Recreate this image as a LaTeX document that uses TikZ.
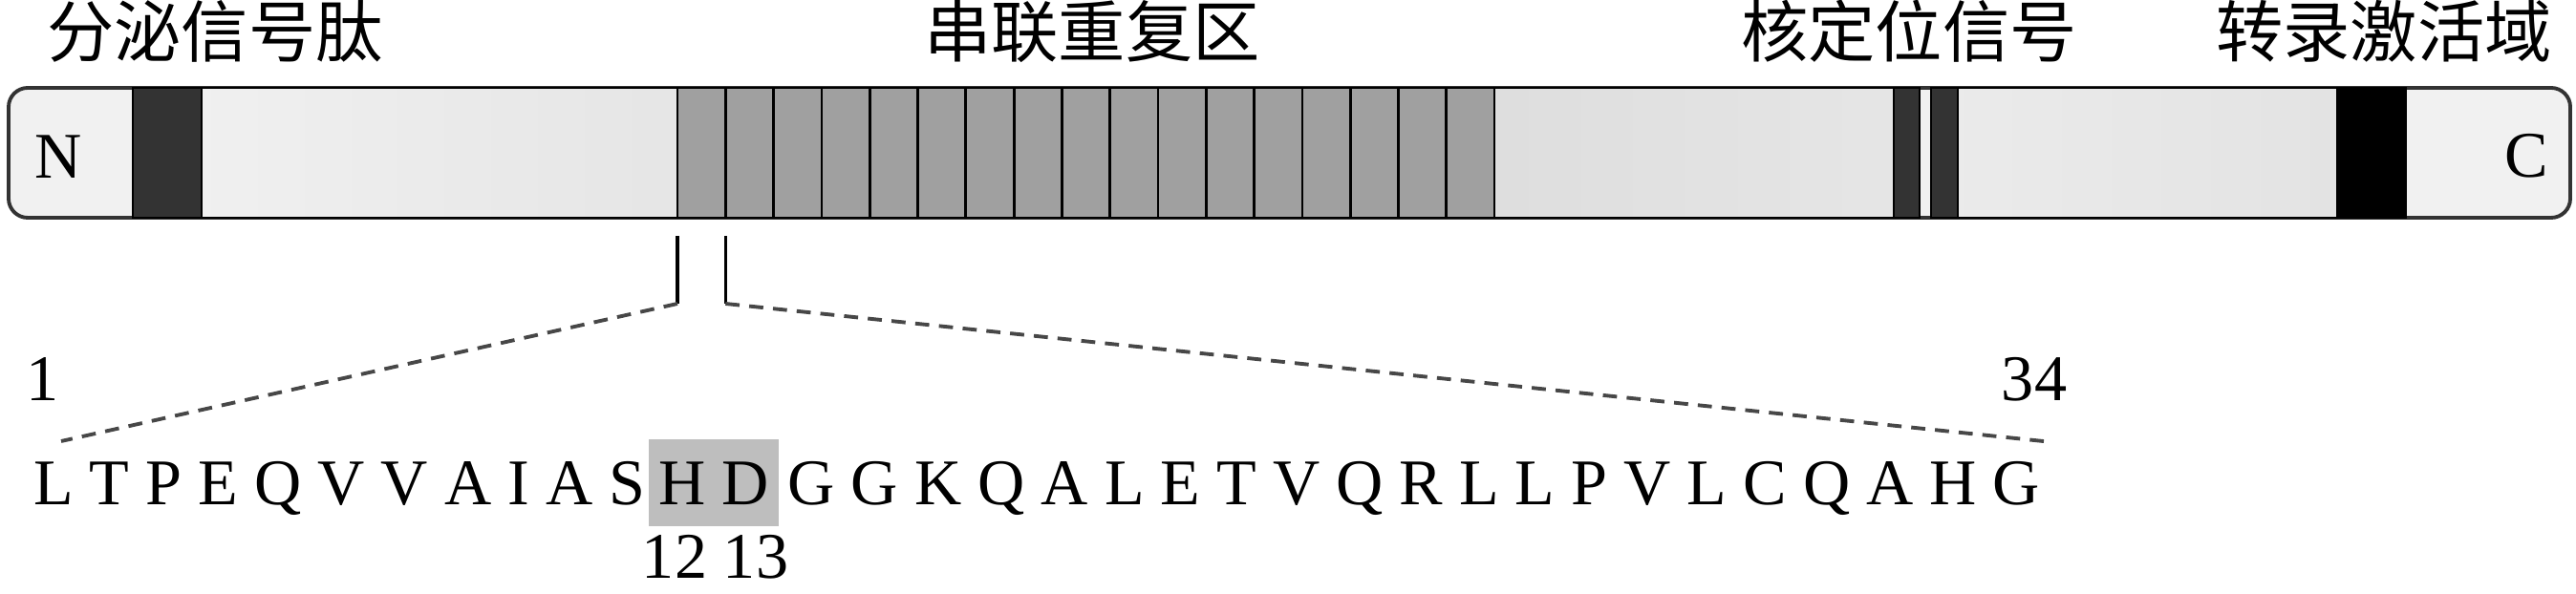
\documentclass[tikz,border=0pt]{standalone}
\usepackage{fontspec}
\setmainfont{Liberation Serif}
\newfontfamily\cjk{Noto Sans CJK SC}
\usepackage{xcolor}
\usepackage{tikz}
\definecolor{endgray}{HTML}{F1F1F1}
\definecolor{repgray}{HTML}{A0A0A0}
\definecolor{darkseg}{HTML}{333333}
\definecolor{hdgray}{HTML}{BEBEBE}

\begin{document}
\begin{tikzpicture}[font=\fontsize{19.4}{23}\selectfont,
  title/.style={font=\cjk\fontsize{20}{24}\selectfont, inner sep=0pt},
  barbox/.style={draw=black!80, line width=1.1pt, fill=endgray, rounded corners=2mm, minimum width=268.1mm, minimum height=13.6mm, inner sep=0pt},
  seg/.style={draw=black, line width=0.8pt, inner sep=0pt, outer sep=0pt, minimum height=13.6mm},
  rep/.style={seg, fill=repgray, minimum width=5.03mm},
  dark/.style={seg, fill=darkseg},
  seq/.style={inner sep=0pt},
  hl/.style={fill=hdgray, inner xsep=1.05mm, inner ysep=0pt, minimum height=9.1mm},
  solidln/.style={line width=0.9pt},
  dashln/.style={line width=1.1pt, black!72, dash pattern=on 4.2pt off 2.9pt}]
\useasboundingbox (0,0) rectangle (26.96,-6.22);

% protein bar
\node[barbox] (bar) at (13.495,-1.60) {};
\node[dark, minimum width=7.2mm]  (sp)   at (1.75,-1.60)  {};
\node[seg, minimum width=49.8mm, left color=black!6, right color=black!10] (lt1) at (4.60,-1.60) {};
\foreach \i in {1,...,17}
  \node[rep] (r\i) at ({7.09+(\i-0.5)*0.503},-1.60) {};
\node[seg, minimum width=41.8mm, left color=black!13, right color=black!10] (lt2) at (17.73,-1.60) {};
\node[dark, minimum width=2.7mm]  (nls1) at (19.955,-1.60) {};
\node[dark, minimum width=2.8mm]  (nls2) at (20.35,-1.60) {};
\node[seg, minimum width=39.7mm, left color=black!8, right color=black!11] (lt3) at (22.475,-1.60) {};
\node[dark, fill=black, minimum width=7.2mm] (ad) at (24.82,-1.60) {};
\node (nterm) at (0.61,-1.64) {N};
\node (cterm) at (26.44,-1.63) {C};

% domain labels
\node[title] (spT)  at (2.25,-0.33)  {分泌信号肽};
\node[title] (repT) at (11.43,-0.33) {串联重复区};
\node[title] (nlsT) at (19.98,-0.33) {核定位信号};
\node[title] (adT)  at (24.95,-0.33) {转录激活域};

% one repeat, spelled out
\node[hl] (hd) at (7.47,-5.06) {H D};
\node[seq, anchor=base east] (seqL) at ([xshift=-0.2mm]hd.base west) {L T P E Q V V A I A S};
\node[seq, anchor=base west] (seqR) at ([xshift=0.8mm]hd.base east) {G G K Q A L E T V Q R L L P V L C Q A H G};
\node[anchor=base] (n1)  at (0.45,-4.20)  {1};
\node[anchor=base] (n34) at (21.29,-4.20) {34};
\node[seq, anchor=base] (n12) at (7.06,-6.06)  {12};
\node[seq, anchor=base] (n13) at (7.91,-6.06)  {13};

\coordinate (kl) at ([yshift=-9mm]r1.south west);
\coordinate (kr) at ([yshift=-9mm]r1.south east);
\coordinate (zl) at (0.64,-4.62);
\coordinate (zr) at (21.48,-4.63);
\draw[solidln] ([yshift=-1.9mm]r1.south west) -- (kl);
\draw[solidln] ([yshift=-1.9mm]r1.south east) -- (kr);
\draw[dashln] (kl) -- (zl);
\draw[dashln] (kr) -- (zr);
\end{tikzpicture}
\end{document}
